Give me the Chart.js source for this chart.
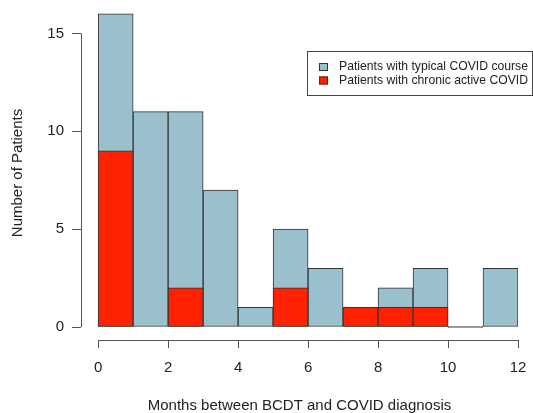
<!DOCTYPE html>
<html>
<head>
<meta charset="utf-8">
<script src="https://cdn.jsdelivr.net/npm/chart.js@4/dist/chart.umd.min.js"></script>
<style>
  html, body { margin: 0; padding: 0; background: #fff; }
  #wrap { width: 533px; height: 413px; }
</style>
</head>
<body>
<div id="wrap"><canvas id="chart" width="533" height="413"></canvas></div>
<script>
// Histogram bins (month centres) and counts per bin
const binCenters = [0.5, 1.5, 2.5, 3.5, 4.5, 5.5, 6.5, 7.5, 8.5, 9.5, 10.5, 11.5];
const typicalCounts = [16, 11, 11, 7, 1, 5, 3, 1, 2, 3, 0, 3];   // all patients (grey-blue)
const chronicCounts = [9, 0, 2, 0, 0, 2, 0, 1, 1, 1, 0, 0];      // chronic active (red)

const xTicks = [0, 2, 4, 6, 8, 10, 12];
const yTicks = [0, 5, 10, 15];

const seriesLabels = ['Patients with typical COVID course', 'Patients with chronic active COVID'];
const COLORS = ['#9bc0cd', '#ff2200'];
const EDGE = '#333333';
const FONT = '"Liberation Sans", Arial, sans-serif';

// R-style axis lines (only span first to last tick) and a boxed legend
const rDecor = {
  id: 'rDecor',
  afterDraw(chart) {
    const { ctx, chartArea, scales } = chart;
    ctx.save();
    ctx.strokeStyle = '#555';
    ctx.lineWidth = 1;
    const yx = Math.round(chartArea.left) + 0.5;
    const xy = Math.round(chartArea.bottom) + 0.5;
    ctx.beginPath();
    ctx.moveTo(yx, scales.y.getPixelForValue(yTicks[0]));
    ctx.lineTo(yx, scales.y.getPixelForValue(yTicks[yTicks.length - 1]));
    ctx.moveTo(scales.x.getPixelForValue(xTicks[0]), xy);
    ctx.lineTo(scales.x.getPixelForValue(xTicks[xTicks.length - 1]), xy);
    ctx.stroke();

    ctx.strokeStyle = '#444';
    ctx.strokeRect(307.5, 51.5, 225, 44);
    ctx.font = `12.2px ${FONT}`;
    ctx.textBaseline = 'middle';
    seriesLabels.forEach((label, i) => {
      const cy = 67 + i * 13.5;
      ctx.fillStyle = COLORS[i];
      ctx.fillRect(319, cy - 4, 9, 8);
      ctx.strokeStyle = EDGE;
      ctx.strokeRect(319.5, cy - 3.5, 8, 7);
      ctx.fillStyle = '#222';
      ctx.fillText(label, 339, cy);
    });
    ctx.restore();
  }
};

new Chart(document.getElementById('chart'), {
  type: 'bar',
  data: {
    datasets: [
      {
        label: seriesLabels[0],
        data: binCenters.map((x, i) => ({ x, y: typicalCounts[i] })),
        // empty bins show only their outline on the baseline
        backgroundColor: c => (c.raw && c.raw.y === 0 ? EDGE : COLORS[0]),
        borderColor: EDGE,
        borderWidth: 1,
        borderSkipped: false,
        minBarLength: 1,
        order: 2
      },
      {
        label: seriesLabels[1],
        data: binCenters.map((x, i) => ({ x, y: chronicCounts[i] })),
        backgroundColor: COLORS[1],
        borderColor: EDGE,
        borderWidth: 1,
        borderSkipped: false,
        order: 1
      }
    ]
  },
  options: {
    responsive: false,
    animation: false,
    barPercentage: 1,
    categoryPercentage: 1,
    layout: { padding: { top: 6, right: 15, left: 0, bottom: 0 } },
    plugins: {
      legend: { display: false },
      tooltip: { enabled: false }
    },
    scales: {
      x: {
        type: 'linear',
        stacked: true,
        offset: false,
        min: -0.49,
        max: 12,
        afterBuildTicks: s => { s.ticks = xTicks.map(v => ({ value: v })); },
        afterFit: s => { s.height = 73; s.paddingLeft = 0; s.paddingRight = 0; },
        border: { display: false },
        grid: { offset: false, drawOnChartArea: false, tickLength: 8, color: '#555', tickColor: '#555' },
        ticks: { color: '#222', padding: 11, maxRotation: 0, font: { family: FONT, size: 15 } },
        title: {
          display: true,
          text: 'Months between BCDT and COVID diagnosis',
          color: '#222',
          font: { family: FONT, size: 15 },
          padding: { top: 10, bottom: -2 }
        }
      },
      y: {
        stacked: false,
        min: -0.663,
        max: 16.4,
        afterBuildTicks: s => { s.ticks = yTicks.map(v => ({ value: v })); },
        afterFit: s => { s.width = 81; s.paddingTop = 0; s.paddingBottom = 0; },
        border: { display: false },
        grid: { drawOnChartArea: false, tickLength: 9, color: '#555', tickColor: '#555' },
        ticks: { color: '#222', padding: 8, font: { family: FONT, size: 15 } },
        title: {
          display: true,
          text: 'Number of Patients',
          color: '#222',
          font: { family: FONT, size: 15 },
          padding: { top: 9, bottom: 0 }
        }
      }
    }
  },
  plugins: [rDecor]
});
</script>
</body>
</html>
